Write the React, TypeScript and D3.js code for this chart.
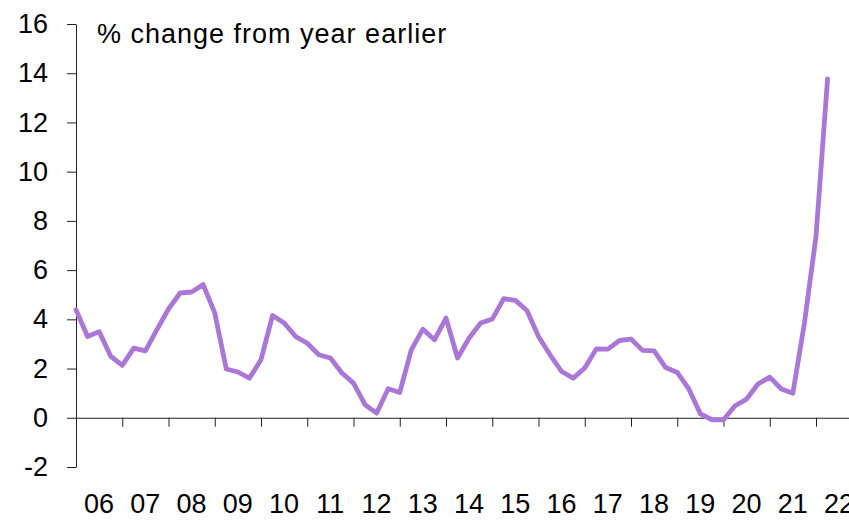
import { useRef, useEffect } from "react"
import * as d3 from "d3"

// quarterly, 2006 Q1 .. 2022 Q2
const startYear = 2006
const values = [
  4.39, 3.3, 3.5, 2.5, 2.13, 2.83, 2.72, 3.58, 4.42, 5.07, 5.11, 5.41,
  4.26, 1.98, 1.86, 1.61, 2.36, 4.16, 3.85, 3.3, 3.03, 2.56, 2.43, 1.82,
  1.41, 0.53, 0.19, 1.18, 1.03, 2.76, 3.6, 3.17, 4.05, 2.43, 3.24, 3.85,
  4.01, 4.84, 4.77, 4.36, 3.3, 2.56, 1.88, 1.61, 2.02, 2.8, 2.79, 3.14,
  3.2, 2.74, 2.72, 2.04, 1.84, 1.17, 0.16, -0.08, -0.08, 0.49, 0.76, 1.38,
  1.65, 1.17, 1.0, 3.85, 7.37, 13.77,
]
const yearTicks = d3.range(2006, 2024)
const yearLabels = d3.range(2006, 2023)
const yTicks = [-2, 0, 2, 4, 6, 8, 10, 12, 14, 16]
const title = "% change from year earlier"

export default function App() {
  const svgRef = useRef<SVGSVGElement>(null)

  function drawChart() {
    const width = 849
    const height = 520
    const fontFamily = "'Liberation Sans', Arial, sans-serif"

    const svg = d3.select(svgRef.current)
    svg.selectAll("*").remove()
    svg.attr("width", width).attr("height", height)

    const x = d3.scaleLinear().domain([2006, 2023]).range([76, 862.25])
    const y = d3.scaleLinear().domain([-2, 16]).range([467, 24])

    // Left axis
    const leftAxis = svg
      .append("g")
      .attr("transform", `translate(76,0)`)
      .call(
        d3
          .axisLeft(y)
          .tickValues(yTicks)
          .tickSize(9)
          .tickSizeOuter(0)
          .tickPadding(19)
          .tickFormat((d) => `${d}`)
      )
    leftAxis.selectAll("path, line").attr("stroke", "#222")
    leftAxis
      .selectAll("text")
      .attr("fill", "#000")
      .style("font-size", "27px")
      .style("font-family", fontFamily)

    // Bottom axis at zero
    const bottomAxis = svg
      .append("g")
      .attr("transform", `translate(0,${y(0)})`)
      .call(
        d3
          .axisBottom(x)
          .tickValues(yearTicks)
          .tickSize(9)
          .tickSizeOuter(0)
          .tickFormat(() => "")
      )
    bottomAxis.selectAll("path, line").attr("stroke", "#222")

    svg
      .append("g")
      .selectAll("text")
      .data(yearLabels)
      .enter()
      .append("text")
      .text((d) => d3.format("02d")(d % 100))
      .attr("x", (d) => x(d + 0.5))
      .attr("y", 513)
      .attr("text-anchor", "middle")
      .style("font-size", "27px")
      .style("font-family", fontFamily)

    // Line
    const line = d3
      .line<number>()
      .x((d, i) => x(startYear + i / 4))
      .y((d) => y(d))
    svg
      .append("path")
      .datum(values)
      .attr("d", line)
      .attr("fill", "none")
      .attr("stroke", "#aa77d6")
      .attr("stroke-width", 4.8)
      .attr("stroke-linejoin", "round")
      .attr("stroke-linecap", "round")

    svg
      .append("text")
      .text(title)
      .attr("x", 97)
      .attr("y", 43)
      .style("font-size", "27px")
      .style("letter-spacing", "1px")
      .style("font-family", fontFamily)
  }

  useEffect(() => {
    drawChart()
  }, [svgRef])

  return (
    <div style={{ position: "absolute", left: 0, top: 0 }}>
      <svg ref={svgRef} style={{ display: "block", overflow: "hidden" }}></svg>
    </div>
  )
}
